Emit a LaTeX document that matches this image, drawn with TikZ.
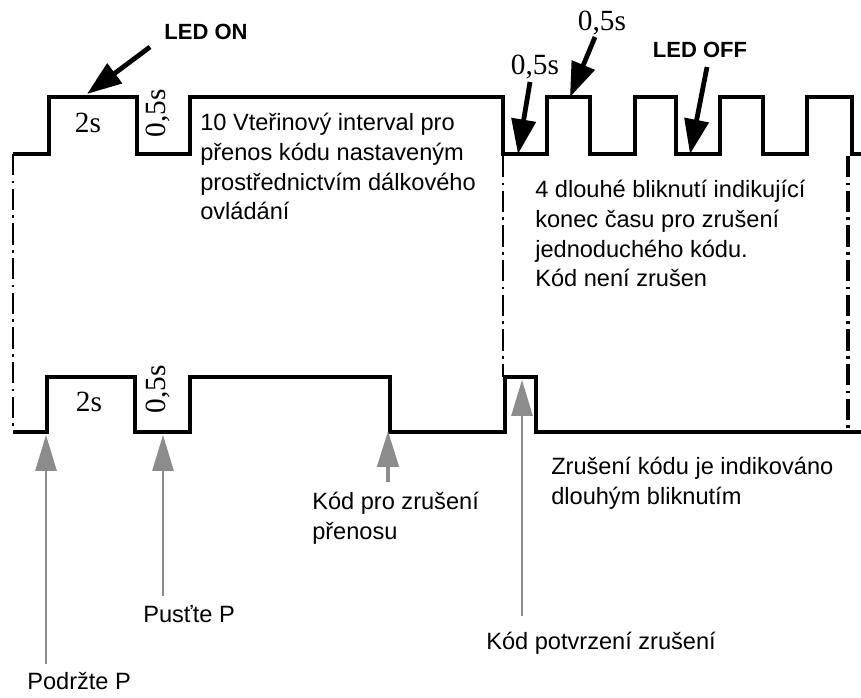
\documentclass[tikz,border=0pt]{standalone}
\usepackage{fontspec}
\setmainfont{Liberation Sans}
\newfontfamily\timfont{Liberation Serif}
\usetikzlibrary{arrows.meta}
\definecolor{arrgray}{RGB}{140,140,140}
\begin{document}
\begin{tikzpicture}[x=0.75pt,y=-0.75pt,
  sig/.style={line width=3.6pt, line join=miter},
  dd/.style={line width=1.1pt, dash pattern=on 16pt off 4pt on 2pt off 4pt},
  ddthick/.style={line width=2.4pt, dash pattern=on 16pt off 4pt on 2pt off 4pt},
  blackarrow/.style={line width=3.6pt, -{Triangle[length=26pt,width=18pt]}},
  grayarrow/.style={draw=arrgray, line width=1.4pt, -{Triangle[length=27pt,width=16pt]}, arrgray},
  txt/.style={font=\fontsize{17.7}{22.3}\selectfont, inner sep=0pt, align=left, anchor=north west},
  ledlab/.style={font=\fontsize{16.5}{20}\selectfont\bfseries, inner sep=0pt},
  timelab/.style={font=\fontsize{22}{24}\selectfont\timfont, inner sep=0pt}
]
\useasboundingbox (0,0) rectangle (861,698);
% top signal
\draw[sig] (13,154) -- (49,154) -- (49,97) -- (137,97) -- (137,154) -- (190,154) -- (190,97)
  -- (503,97) -- (503,154) -- (547,154) -- (547,97) -- (590,97) -- (590,154) -- (635,154)
  -- (635,97) -- (676,97) -- (676,154) -- (720,154) -- (720,97) -- (763,97) -- (763,154)
  -- (807,154) -- (807,97) -- (852,97) -- (852,154) -- (861,154);
% bottom signal
\draw[sig] (13,432) -- (47,432) -- (47,377) -- (135,377) -- (135,432) -- (190,432) -- (190,377)
  -- (390,377) -- (390,432) -- (505,432) -- (505,377) -- (536,377) -- (536,432) -- (861,432);
% dash-dot guides
\draw[dd] (13,154) -- (13,430);
\draw[dd] (503,156) -- (503,377);
\draw[ddthick] (848,156) -- (848,430);
% time labels
\node[timelab] (t2a) at (88,123) {2s};
\node[timelab, rotate=90] (t05a) at (158,113) {0,5s};
\node[timelab] (t2b) at (89,402) {2s};
\node[timelab, rotate=90] (t05b) at (158,389) {0,5s};
\node[timelab] (t05c) at (535,67) {0,5s};
\node[timelab] (t05d) at (602,23) {0,5s};
% LED labels
\node[ledlab] (ledon) at (206,32) {LED ON};
\node[ledlab] (ledoff) at (700,50) {LED OFF};
% black arrows
\coordinate (a1s) at (150,47); \coordinate (a1e) at (87,94);
\coordinate (a2s) at (530,82); \coordinate (a2e) at (518,154);
\coordinate (a3s) at (595,37); \coordinate (a3e) at (570,97);
\coordinate (a4s) at (707,67); \coordinate (a4e) at (690,154);
\draw[blackarrow] (a1s) -- (a1e);
\draw[blackarrow] (a2s) -- (a2e);
\draw[blackarrow] (a3s) -- (a3e);
\draw[blackarrow] (a4s) -- (a4e);
% text blocks
\node[txt] (int) at (200,113) {10 Vteřinový interval pro\\přenos kódu nastaveným\\prostřednictvím dálkového\\ovládání};
\node[txt] (four) at (535,180) {4 dlouhé bliknutí indikující\\konec času pro zrušení\\jednoduchého kódu.\\Kód není zrušen};
\node[txt] (zrus) at (551,457) {Zrušení kódu je indikováno\\dlouhým bliknutím};
\node[txt] (kpz) at (312,492) {Kód pro zrušení\\přenosu};
\node[txt] (pust) at (143,605) {Pusťte P};
\node[txt] (podr) at (27,672) {Podržte P};
\node[txt] (kpot) at (486,632) {Kód potvrzení zrušení};
% gray arrows
\coordinate (g1b) at (46,664); \coordinate (g1t) at (46,435);
\coordinate (g2b) at (163,596); \coordinate (g2t) at (163,435);
\coordinate (g3b) at (388,482); \coordinate (g3t) at (388,431);
\coordinate (g4b) at (522,616); \coordinate (g4t) at (522,380);
\draw[grayarrow] (g1b) -- (g1t);
\draw[grayarrow] (g2b) -- (g2t);
\draw[grayarrow, line width=3pt] (g3b) -- (g3t);
\draw[grayarrow] (g4b) -- (g4t);
\end{tikzpicture}
\end{document}
